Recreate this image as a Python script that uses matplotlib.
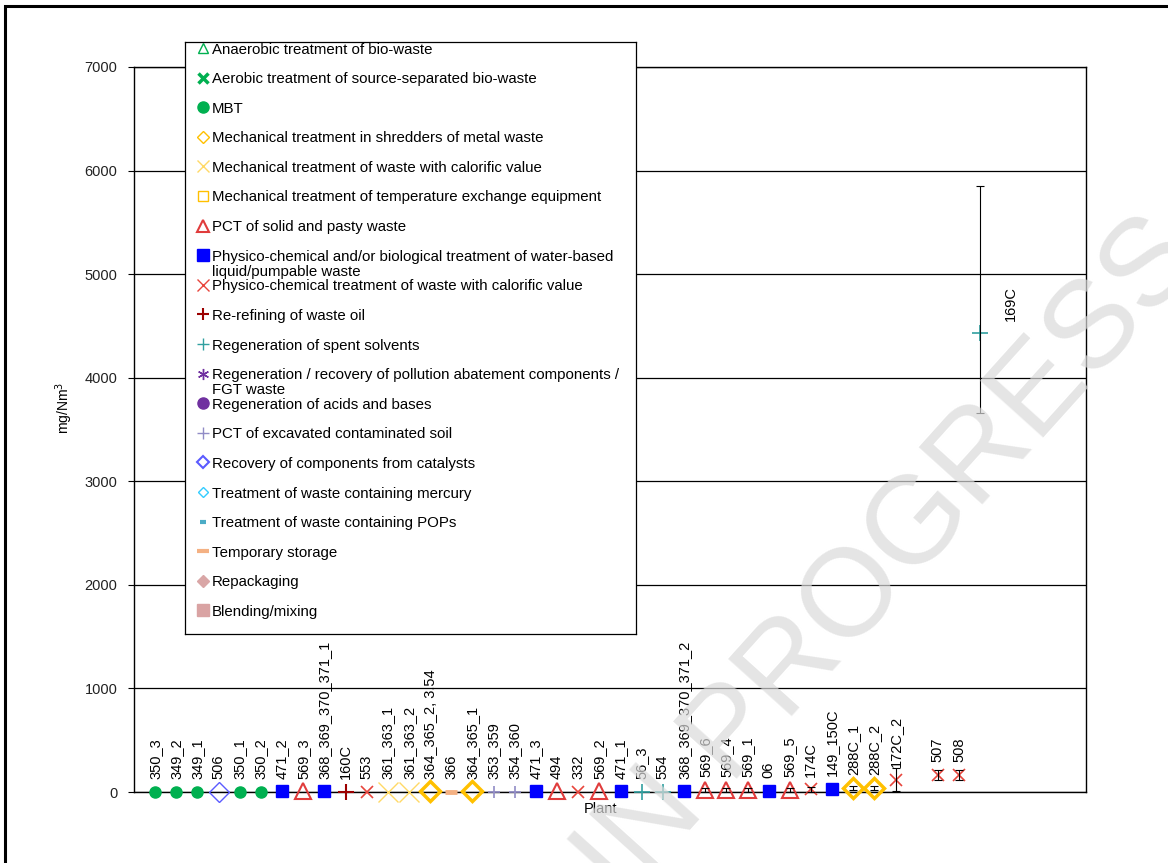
import numpy as np
import matplotlib.pyplot as plt
from matplotlib.patches import Rectangle

plt.rcParams['font.family'] = ['Liberation Sans', 'DejaVu Sans']

# waste treatment categories, in legend order
categories = [
    "Anaerobic treatment of bio-waste",
    "Aerobic treatment of source-separated bio-waste",
    "MBT",
    "Mechanical treatment in shredders of metal waste",
    "Mechanical treatment of waste with calorific value",
    "Mechanical treatment of temperature exchange equipment",
    "PCT of solid and pasty waste",
    "Physico-chemical and/or biological treatment of water-based\nliquid/pumpable waste",
    "Physico-chemical treatment of waste with calorific value",
    "Re-refining of waste oil",
    "Regeneration of spent solvents",
    "Regeneration / recovery of pollution abatement components /\nFGT waste",
    "Regeneration of acids and bases",
    "PCT of excavated contaminated soil",
    "Recovery of components from catalysts",
    "Treatment of waste containing mercury",
    "Treatment of waste containing POPs",
    "Temporary storage",
    "Repackaging",
    "Blending/mixing",
]
cat_colors = ['#00B050', '#00B050', '#00B050', '#FFC000', '#FFD966', '#FFC000',
              '#E03C3C', '#0000FF', '#E8453C', '#9C0000', '#31A0A0', '#7030A0',
              '#7030A0', '#918CC6', '#5B5BFF', '#33CCFF', '#4BACC6', '#F4B183',
              '#D9A6A6', '#D9A3A3']
cat_markers = ['^', 'x', 'o', 'D', 'x', 's', '^', 's', 'x', '+', '+', (6, 2, 0),
               'o', '+', 'D', 'D', '_', '_', 'D', 's']
cat_filled = [False, True, True, False, True, False, False, True, True, True, True, True,
              True, True, False, False, True, True, True, True]
leg_size = [7, 7, 8, 6, 8, 7, 8, 8, 8, 8, 8, 8, 8, 8, 6, 5, 5, 8, 6, 8]
leg_width = [1, 2.5, 1, 1, 1, 1, 1.5, 1, 1, 1.5, 1, 1, 1, 1, 1.5, 1, 3, 3, 1, 1]

# plants along the x axis (one empty slot), category index, concentration and error bars
plants = ["350_3", "349_2", "349_1", "506", "350_1", "350_2", "471_2", "569_3",
          "368_369_370_371_1", "160C", "553", "361_363_1", "361_363_2", "364_365_2, 3.54",
          "366", "364_365_1", "353_359", "354_360", "471_3", "494", "332", "569_2",
          "471_1", "56_3", "554", "368_369_370_371_2", "569_6", "569_4", "569_1", "06",
          "569_5", "174C", "149_150C", "288C_1", "288C_2", "172C_2", "", "507", "508",
          "169C"]
plant_cat = [2, 2, 2, 14, 2, 2, 7, 6, 7, 9, 8, 4, 4, 3, 17, 3, 13, 13, 7, 6, 8, 6,
             7, 10, 10, 7, 6, 6, 6, 7, 6, 8, 7, 3, 3, 8, -1, 8, 8, 10]
values = [3, 3, 3, 3, 3, 3, 5, 5, 5, 3, 3, 3, 3, 5, 3, 5, 3, 3, 5, 5, 3, 5, 5, 3, 3,
          5, 20, 20, 20, 10, 20, 25, 30, 40, 40, 120, np.nan, 165, 165, 4430]
err_lo = [0] * 26 + [20, 20, 20, 0, 20, 25, 0, 20, 20, 115, 0, 45, 45, 770]
err_hi = [0] * 26 + [20, 20, 20, 0, 20, 25, 0, 20, 20, 115, 0, 45, 45, 1420]

# marker sizes / edge widths used on the plot itself
plot_size = {2: 8, 14: 10, 7: 8, 6: 12, 9: 12, 8: 9, 4: 14, 3: 10, 17: 8, 13: 9, 10: 12}
plot_width = {2: 1, 14: 1, 7: 1, 6: 1.5, 9: 1.5, 8: 1.2, 4: 1, 3: 2.5, 17: 3.5, 13: 1.2, 10: 1.2}

W, H = 1168, 863
fig = plt.figure(figsize=(W / 100, H / 100), dpi=100)
ax = fig.add_axes([134 / W, 1 - 792 / H, (1086 - 134) / W, (792 - 67) / H])

x = np.arange(1, len(plants) + 1)
vals = np.array(values, dtype=float)
cats = np.array(plant_cat)

for c in sorted(set(plant_cat)):
    if c < 0:
        continue
    m = cats == c
    col = cat_colors[c]
    ax.plot(x[m], vals[m], linestyle='none', marker=cat_markers[c], ms=plot_size[c],
            mew=plot_width[c], mec=col, mfc=col if cat_filled[c] else 'none',
            clip_on=False, zorder=3)

lo = np.array(err_lo, dtype=float)
hi = np.array(err_hi, dtype=float)
e = (lo + hi) > 0
ax.errorbar(x[e], vals[e], yerr=[lo[e], hi[e]], fmt='none', ecolor='black',
            elinewidth=0.8, capsize=3, capthick=0.8, zorder=4, clip_on=False)

# rotated data labels above each point
for xi, v, name in zip(x, vals, plants):
    if not name:
        continue
    if name == "169C":
        ax.annotate(name, (xi, v), xytext=(22, 21), textcoords='offset points',
                    rotation=90, ha='center', va='center', fontsize=10.5)
    else:
        ax.annotate(name, (xi, v), xytext=(0, 9), textcoords='offset points',
                    rotation=90, ha='center', va='bottom', fontsize=10.5)

ax.set_xlim(0, 45)
ax.set_ylim(0, 7000)
ax.set_yticks(range(0, 7001, 1000))
ax.set_xticks([])
ax.yaxis.grid(True, color='black', lw=0.9)
ax.set_axisbelow(True)
for s in ax.spines.values():
    s.set_color('black')
    s.set_linewidth(1)
ax.tick_params(axis='y', length=4, width=0.8, pad=8, labelsize=10.5, labelcolor='#222222')
ax.set_ylabel("mg/Nm$^3$", fontsize=10)
ax.yaxis.set_label_coords(-0.062, 0.53)
ax.set_xlabel("Plant", fontsize=10.5)
ax.xaxis.set_label_coords(0.49, -0.014)

# legend box drawn in pixel units
lx0, ly0, lx1, ly1 = 185, 42, 636, 634
lg = fig.add_axes([lx0 / W, 1 - ly1 / H, (lx1 - lx0) / W, (ly1 - ly0) / H])
lg.set_xlim(0, lx1 - lx0)
lg.set_ylim(ly1 - ly0, 0)
lg.set_xticks([])
lg.set_yticks([])
for s in lg.spines.values():
    s.set_color('black')
    s.set_linewidth(0.9)
for i, name in enumerate(categories):
    yy = 6 + i * 29.6
    col = cat_colors[i]
    lg.plot([18], [yy], linestyle='none', marker=cat_markers[i], ms=leg_size[i],
            mew=leg_width[i], mec=col, mfc=col if cat_filled[i] else 'none', clip_on=False)
    lg.text(27, yy - 5.5, name, ha='left', va='top', fontsize=10.8, linespacing=1.12)

# page watermark
fig.text(890 / W, 1 - 560 / H, "IN PROGRESS", rotation=48, rotation_mode='anchor',
         ha='center', va='center', fontsize=90, color='#DADADA', alpha=0.7, zorder=10)

# outer frame
fig.add_artist(Rectangle((5 / W, -0.05), 1.2, 1.05 - 6 / H, transform=fig.transFigure,
                         fill=False, lw=2.2, edgecolor='black'))

fig.savefig("out.png", dpi=100)
